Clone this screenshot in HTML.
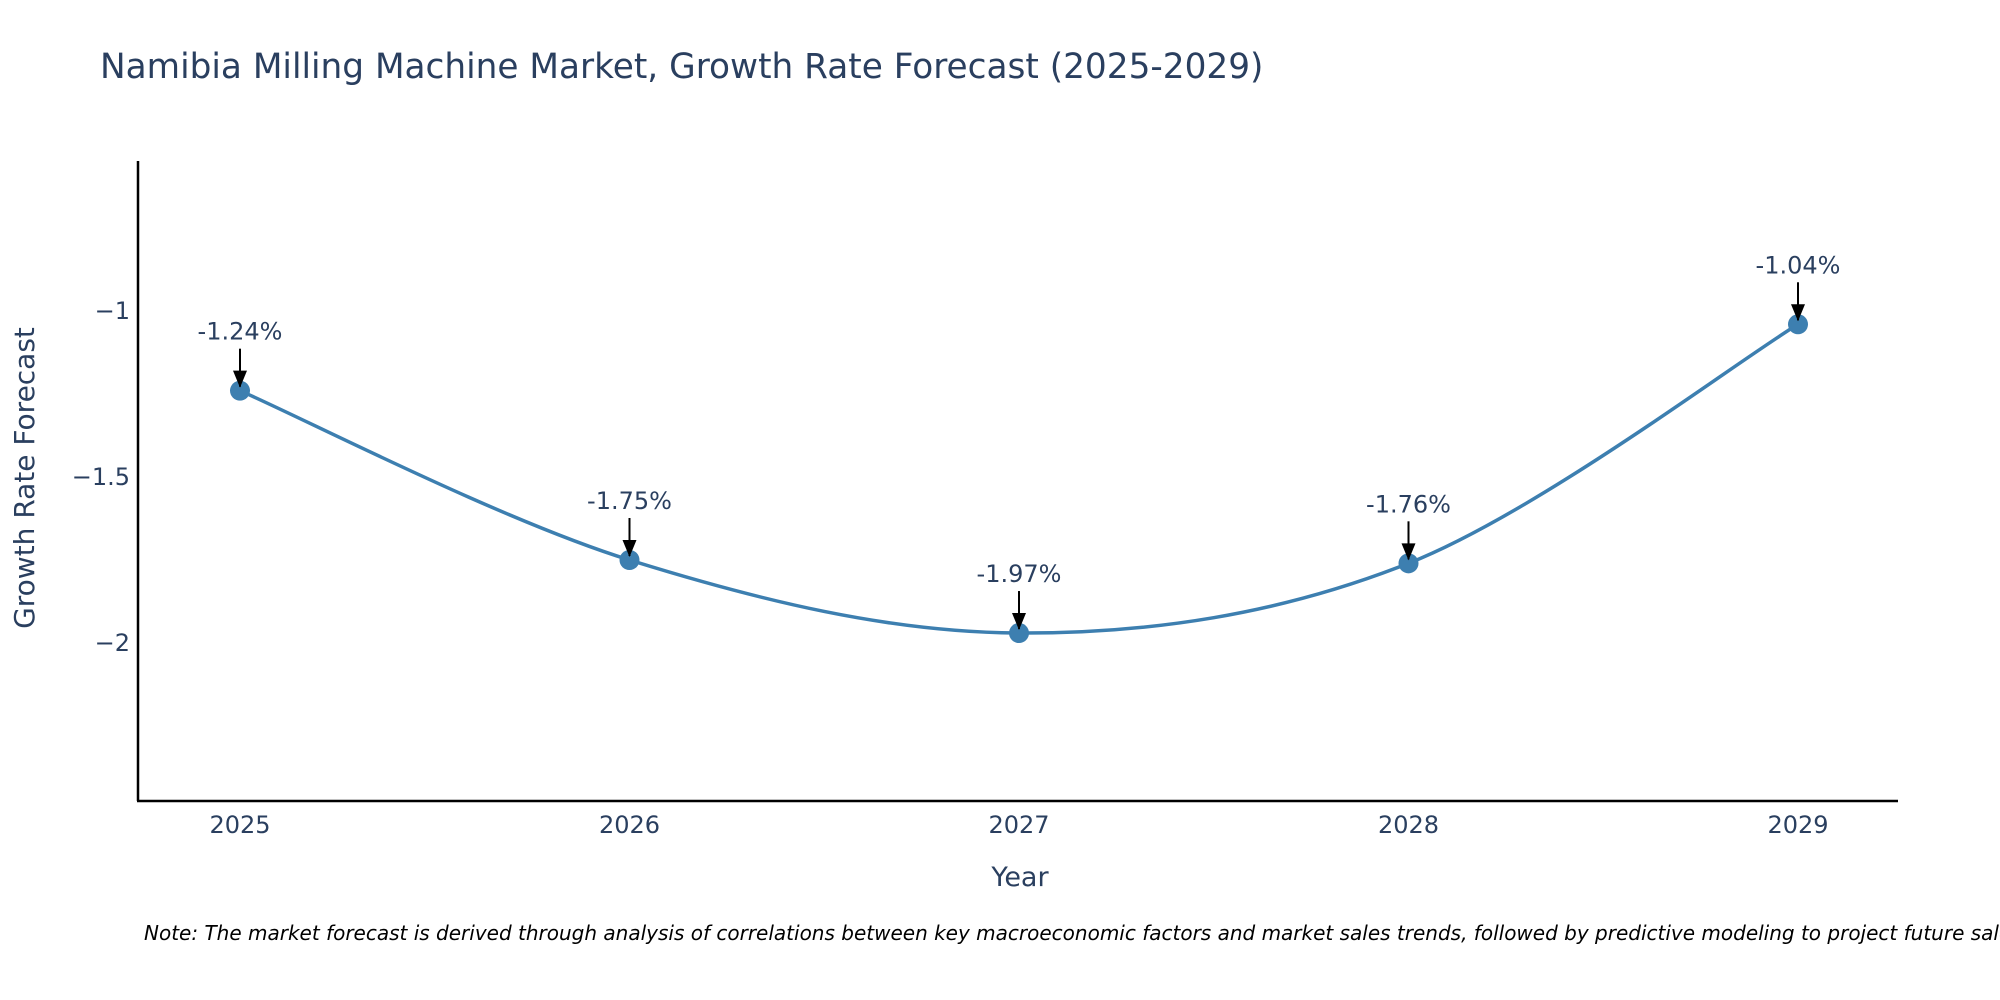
<!DOCTYPE html>
<html><head><meta charset="utf-8"><style>
html,body{margin:0;padding:0;background:#fff;}
svg{display:block;font-family:"DejaVu Sans","Liberation Sans",sans-serif;}
</style></head><body>
<svg id="chart" width="2000" height="1000" viewBox="0 0 2000 1000" xmlns="http://www.w3.org/2000/svg">
<rect width="2000" height="1000" fill="#fff"/>
<text x="100" y="78" font-size="34.3" fill="#2a3f5f">Namibia Milling Machine Market, Growth Rate Forecast (2025-2029)</text>
<g id="plot"></g>
<text x="1020" y="886" font-size="27" fill="#2a3f5f" text-anchor="middle">Year</text>
<text transform="translate(34,478) rotate(-90)" font-size="28" fill="#2a3f5f" text-anchor="middle">Growth Rate Forecast</text>
<text x="144" y="940" font-size="20" font-style="italic" fill="#000">Note: The market forecast is derived through analysis of correlations between key macroeconomic factors and market sales trends, followed by predictive modeling to project future sales.</text>
</svg>
<script>
const years = [2025, 2026, 2027, 2028, 2029];
const growth = [-1.24, -1.75, -1.97, -1.76, -1.04];
const yTicks = [-1, -1.5, -2];
const yTickLabels = ["\u22121", "\u22121.5", "\u22122"];

const NS = "http://www.w3.org/2000/svg";
const g = document.getElementById("plot");
const x = v => 240 + (v - 2025) * (1798 - 240) / 4;
const y = v => 311 + (-1 - v) * 332;
function mk(tag, attrs, parent) {
  const el = document.createElementNS(NS, tag);
  for (const k in attrs) el.setAttribute(k, attrs[k]);
  (parent || g).appendChild(el);
  return el;
}
let el;
el = mk("line", {x1: 138, y1: 161, x2: 138, y2: 801, stroke: "#000", "stroke-width": 2.5});


el = mk("line", {x1: 137, y1: 801, x2: 1898, y2: 801, stroke: "#000", "stroke-width": 2.5});


yTicks.forEach((t, i) => {
  const tx = mk("text", {x: 130, y: y(t) + 8, "font-size": 24, fill: "#2a3f5f", "text-anchor": "end"});
  tx.textContent = yTickLabels[i];
  
  
});
years.forEach(yr => {
  const tx = mk("text", {x: x(yr), y: 833, "font-size": 24, fill: "#2a3f5f", "text-anchor": "middle"});
  tx.textContent = String(yr);
  
  
});
const pts = years.map((yr, i) => [x(yr), y(growth[i])]);
let d = "M" + pts[0][0] + "," + pts[0][1];
for (let i = 0; i < pts.length - 1; i++) {
  const p0 = pts[Math.max(0, i - 1)], p1 = pts[i], p2 = pts[i + 1], p3 = pts[Math.min(pts.length - 1, i + 2)];
  const t = 6;
  const c1 = [p1[0] + (p2[0] - p0[0]) / t, p1[1] + (p2[1] - p0[1]) / t];
  const c2 = [p2[0] - (p3[0] - p1[0]) / t, p2[1] - (p3[1] - p1[1]) / t];
  d += " C" + c1 + " " + c2 + " " + p2;
}
el = mk("path", {d: d, fill: "none", stroke: "#3d7fb0", "stroke-width": 3.5});


pts.forEach((p, i) => {
  const c = mk("circle", {cx: p[0], cy: p[1], r: 10, fill: "#3d7fb0"});
  
  
  const a = mk("line", {x1: p[0], y1: p[1] - 42, x2: p[0], y2: p[1] - 4, stroke: "#000", "stroke-width": 2});
  const hd = mk("path", {d: `M${p[0]-7},${p[1]-20} L${p[0]+7},${p[1]-20} L${p[0]},${p[1]-3} z`, fill: "#000"});
  
  
  
  
  const tx = mk("text", {x: p[0], y: p[1] - 51, "font-size": 24, fill: "#2a3f5f", "text-anchor": "middle"});
  tx.textContent = growth[i].toFixed(2) + "%";
  
  
});
</script>
</body></html>
